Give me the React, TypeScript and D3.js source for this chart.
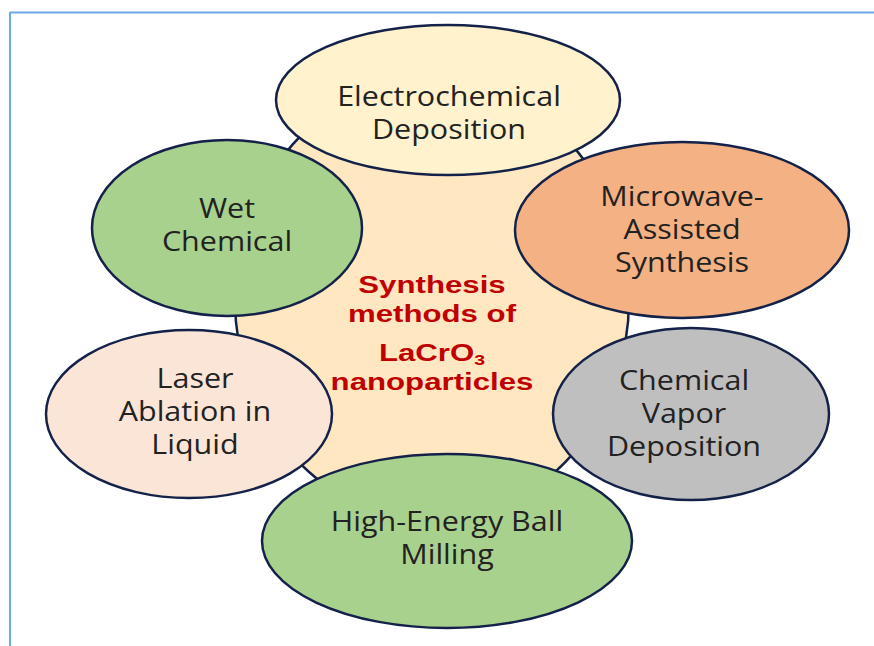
import { useEffect, useRef } from 'react'
import * as d3 from 'd3'

// labels of each synthesis route (one line per entry)
const methods = [
  ['Electrochemical', 'Deposition'],
  ['Wet', 'Chemical'],
  ['Microwave-', 'Assisted', 'Synthesis'],
  ['Laser', 'Ablation in', 'Liquid'],
  ['Chemical', 'Vapor', 'Deposition'],
  ['High-Energy Ball', 'Milling'],
]
const fills = ['#FFF2CC', '#A9D18E', '#F4B183', '#FBE5D6', '#BFBFBF', '#A9D18E']
const centerTitle = ['Synthesis', 'methods of', 'LaCrO', 'nanoparticles']

// layout: cx, cy, rx, ry, text centre x, text middle y for each bubble
const layout = [
  [448, 100, 172, 75, 449, 113],
  [227, 228, 135, 88, 227, 225],
  [682, 230, 167, 88, 682, 229],
  [189, 414, 143, 84, 195, 411],
  [691, 414, 138, 86, 684, 413],
  [447, 541, 185, 87, 447, 538],
]

function App() {
  const svg = useRef(null)

  useEffect(() => {
    const svgRef = d3.select(svg.current)
    svgRef.selectAll('*').remove()

    // frame lines
    svgRef.append('line')
      .attr('x1', 10).attr('y1', 12.5).attr('x2', 874).attr('y2', 12.5)
      .attr('stroke', '#6FA8E6').attr('stroke-width', 2)
    svgRef.append('line')
      .attr('x1', 10).attr('y1', 12).attr('x2', 10).attr('y2', 646)
      .attr('stroke', '#6FA8E6').attr('stroke-width', 2)

    const g = svgRef.append('g')

    // central blob
    g.append('ellipse')
      .attr('cx', 432).attr('cy', 300).attr('rx', 197).attr('ry', 220)
      .attr('fill', '#FFE7C2')
      .attr('stroke', '#14224A').attr('stroke-width', 2.5)

    const bubbles = g.selectAll('g.bubble')
      .data(methods)
      .join('g')
      .attr('class', 'bubble')

    bubbles.append('ellipse')
      .attr('cx', (d, i) => layout[i][0])
      .attr('cy', (d, i) => layout[i][1])
      .attr('rx', (d, i) => layout[i][2])
      .attr('ry', (d, i) => layout[i][3])
      .attr('fill', (d, i) => fills[i])
      .attr('stroke', '#14224A')
      .attr('stroke-width', 2.5)

    const lineH = 33
    bubbles.each(function (d, i) {
      const tx = layout[i][4]
      const mid = layout[i][5]
      const top = mid - ((d.length - 1) * lineH) / 2 + 10
      const tg = d3.select(this).append('g')
        .attr('transform', `translate(${tx},0) scale(1.13,1)`)
      d.forEach((line, j) => {
        tg.append('text')
          .attr('x', 0)
          .attr('y', top + j * lineH)
          .attr('text-anchor', 'middle')
          .attr('fill', '#222222')
          .style('font', '27px "Open Sans", sans-serif')
          .text(line)
      })
    })

    // centre title, bold red
    const title = g.append('g')
      .attr('transform', 'translate(432,0) scale(1.3,1)')
    const titleY = [293, 322, 361, 390]
    centerTitle.forEach((t, i) => {
      const txt = title.append('text')
        .attr('x', 0)
        .attr('y', titleY[i])
        .attr('text-anchor', 'middle')
        .attr('fill', '#C00000')
        .style('font', 'bold 24px "Liberation Sans", Arial, sans-serif')
      txt.append('tspan').text(t)
      if (t === 'LaCrO') {
        txt.append('tspan').attr('dy', 4).style('font-size', '15px').text('3')
      }
    })
  }, [])

  return (
    <svg ref={svg} width={874} height={646}
      style={{ position: 'absolute', left: 0, top: 0, background: '#fff' }} />
  )
}

export default App
